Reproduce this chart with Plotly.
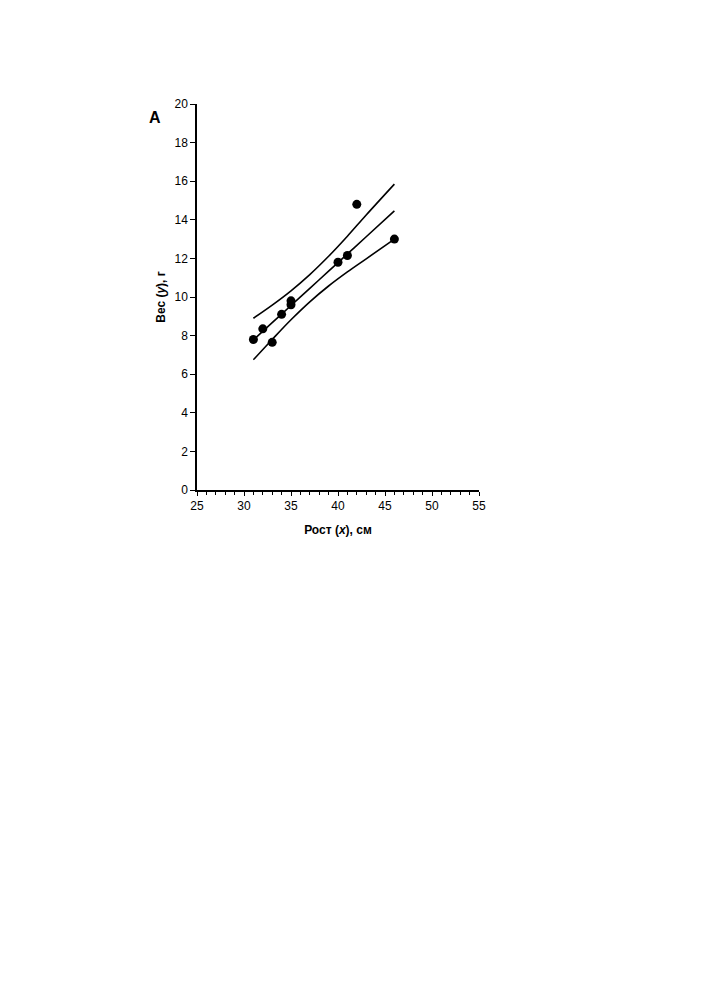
import plotly.graph_objects as go

# Observed data: height (x, cm) vs weight (y, g)
height = [31, 32, 33, 34, 35, 35, 40, 41, 42, 46]
weight = [7.8, 8.35, 7.65, 9.1, 9.8, 9.6, 11.8, 12.15, 14.8, 13.0]

# Regression line and confidence band
band_x = [31, 33, 35, 37, 39, 41, 43, 46]
fit_y = [7.78, 8.67, 9.56, 10.45, 11.34, 12.23, 13.12, 14.46]
upper_y = [8.9, 9.58, 10.32, 11.16, 12.11, 13.15, 14.25, 15.85]
lower_y = [6.75, 7.8, 8.82, 9.75, 10.57, 11.3, 11.98, 13.0]

x_ticks = [25, 30, 35, 40, 45, 50, 55]
y_ticks = [0, 2, 4, 6, 8, 10, 12, 14, 16, 18, 20]

font = "Liberation Sans, Arial, sans-serif"

L, R, T, B = 189, 234, 96, 518
W, H = 705, 1000

fig = go.Figure()
for ys in (upper_y, fit_y, lower_y):
    fig.add_trace(go.Scatter(x=band_x, y=ys, mode="lines",
                             line=dict(color="black", width=1.6, shape="spline"),
                             hoverinfo="skip", showlegend=False))
fig.add_trace(go.Scatter(x=height, y=weight, mode="markers",
                         marker=dict(color="black", size=9),
                         showlegend=False))

plot_w = W - L - R
plot_h = H - T - B

fig.update_layout(
    width=W, height=H,
    margin=dict(l=L, r=R, t=T, b=B),
    paper_bgcolor="white", plot_bgcolor="white",
    font=dict(family=font, size=12, color="black"),
    xaxis=dict(range=[25, 55], tickvals=x_ticks, showline=True, linecolor="black",
               linewidth=1.5, ticks="outside", ticklen=4, tickwidth=1, tickcolor="black",
               showgrid=False, zeroline=False,
               minor=dict(dtick=1, ticks="outside", ticklen=3, tickcolor="black", showgrid=False),
               title=dict(text="<b>Рост (<i>x</i>), см</b>", font=dict(size=12), standoff=13)),
    yaxis=dict(range=[0, 20], tickvals=y_ticks, showline=True, linecolor="black",
               linewidth=1.5, ticks="outside", ticklen=5, tickwidth=1, tickcolor="black",
               showgrid=False, zeroline=False,
               title=dict(text="<b>Вес (<i>y</i>), г</b>", font=dict(size=12), standoff=6)),
    annotations=[dict(text="<b>A</b>",
                      x=(155 - 8 - L) / plot_w, y=(H - B - (117 - 8)) / plot_h,
                      xref="paper", yref="paper", xanchor="center", yanchor="middle",
                      showarrow=False, font=dict(size=16, family=font))],
)

fig.write_html("out.html")
